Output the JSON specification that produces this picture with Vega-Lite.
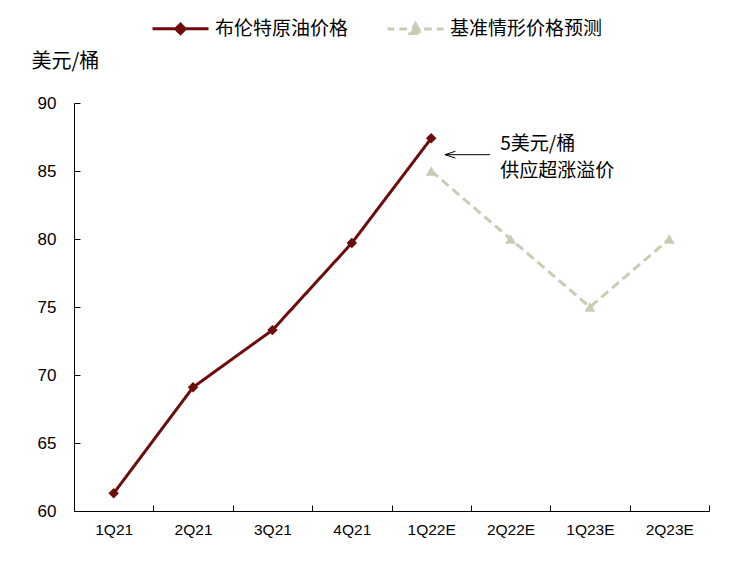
{
  "$schema": "https://vega.github.io/schema/vega-lite/v6.json",
  "autosize": "none",
  "width": 635,
  "height": 408,
  "padding": {"left": 74, "top": 103, "right": 30, "bottom": 52},
  "background": "white",
  "config": {
    "view": {"stroke": null},
    "font": "Noto Sans CJK SC"
  },
  "datasets": {
    "main": [
      {"q": "1Q21", "series": "布伦特原油价格", "value": 61.3},
      {"q": "2Q21", "series": "布伦特原油价格", "value": 69.1},
      {"q": "3Q21", "series": "布伦特原油价格", "value": 73.3},
      {"q": "4Q21", "series": "布伦特原油价格", "value": 79.7},
      {"q": "1Q22E", "series": "布伦特原油价格", "value": 87.4},
      {"q": "1Q22E", "series": "基准情形价格预测", "value": 85},
      {"q": "2Q22E", "series": "基准情形价格预测", "value": 80},
      {"q": "1Q23E", "series": "基准情形价格预测", "value": 75},
      {"q": "2Q23E", "series": "基准情形价格预测", "value": 80}
    ],
    "note": [
      {"q": "1Q22E", "value": 86.2, "label": ["5美元/桶", "供应超涨溢价"]}
    ]
  },
  "encoding": {
    "x": {
      "field": "q", "type": "nominal",
      "sort": ["1Q21", "2Q21", "3Q21", "4Q21", "1Q22E", "2Q22E", "1Q23E", "2Q23E"],
      "scale": {"domain": ["1Q21", "2Q21", "3Q21", "4Q21", "1Q22E", "2Q22E", "1Q23E", "2Q23E"], "paddingInner": 0, "paddingOuter": 0},
      "axis": {
        "title": null, "labelAngle": 0, "tickBand": "extent",
        "tickSize": -6, "tickColor": "black", "domainColor": "black",
        "labelFont": "Liberation Sans", "labelFontSize": 15.5, "labelColor": "black",
        "labelPadding": 17, "grid": false
      }
    },
    "y": {
      "field": "value", "type": "quantitative",
      "scale": {"domain": [60, 90], "zero": false, "nice": false},
      "axis": {
        "title": "美元/桶", "titleAngle": 0, "titleAlign": "left", "titleBaseline": "middle",
        "titleX": -43, "titleY": -42, "titleFontSize": 20, "titleFontWeight": "normal", "titleColor": "black",
        "titleFont": "Noto Sans CJK SC",
        "values": [60, 65, 70, 75, 80, 85, 90],
        "tickSize": -6, "tickColor": "black", "domainColor": "black",
        "labelFont": "Liberation Sans", "labelFontSize": 17, "labelColor": "black",
        "labelPadding": 24, "grid": false
      }
    }
  },
  "layer": [
    {
      "data": {"name": "main"},
      "mark": {"type": "line", "strokeWidth": 3},
      "encoding": {
        "color": {
          "field": "series", "type": "nominal",
          "scale": {"domain": ["布伦特原油价格", "基准情形价格预测"], "range": ["#6e0b0b", "#cbcbb5"]},
          "legend": {
            "title": null, "orient": "none", "direction": "horizontal",
            "legendX": 77, "legendY": -104,
            "labelFontSize": 19, "labelColor": "black", "labelFont": "Noto Sans CJK SC",
            "symbolSize": 3136, "symbolStrokeWidth": 3, "labelOffset": 5, "columnPadding": 32,
            "labelLimit": 300,
            "encode": {
              "symbols": {
                "update": {
                  "shape": {"signal": "datum.value === '布伦特原油价格' ? 'M-1,0L1,0M0,-0.17L0.17,0L0,0.17L-0.17,0Z' : 'M-1,0L-0.76,0M-0.58,0L-0.3,0M0.3,0L0.58,0M0.76,0L1,0M0,-0.19L0.2,0.16L-0.2,0.16Z'"},
                  "stroke": {"scale": "color", "field": "value"},
                  "fill": {"scale": "color", "field": "value"},
                  "strokeWidth": {"value": 3},
                  "strokeDash": {"value": [1, 0]},
                  "opacity": {"value": 1}
                }
              }
            }
          }
        },
        "strokeDash": {
          "field": "series", "type": "nominal",
          "scale": {"domain": ["布伦特原油价格", "基准情形价格预测"], "range": [[1, 0], [9, 5]]},
          "legend": null
        }
      }
    },
    {
      "data": {"name": "main"},
      "transform": [{"filter": "datum.series === '布伦特原油价格'"}],
      "mark": {"type": "point", "shape": "diamond", "filled": true, "opacity": 1, "size": 110, "color": "#6e0b0b"},
      "encoding": {}
    },
    {
      "data": {"name": "main"},
      "transform": [{"filter": "datum.series === '基准情形价格预测'"}],
      "mark": {"type": "point", "shape": "triangle-up", "filled": true, "opacity": 1, "size": 120, "color": "#cbcbb5"},
      "encoding": {}
    },
    {
      "data": {"name": "note"},
      "mark": {"type": "rule", "color": "black", "strokeWidth": 1, "xOffset": 14, "x2Offset": 59},
      "encoding": {
        "x": {"field": "q", "type": "nominal", "bandPosition": 0.5},
        "x2": {"field": "q", "bandPosition": 0.5}
      }
    },
    {
      "data": {"name": "note"},
      "mark": {"type": "point", "shape": "M1,-0.65L-1,0L1,0.65", "filled": false, "stroke": "black", "strokeWidth": 1, "size": 110, "xOffset": 19, "opacity": 1},
      "encoding": {}
    },
    {
      "data": {"name": "note"},
      "mark": {"type": "text", "align": "left", "baseline": "middle", "xOffset": 69, "yOffset": -11, "fontSize": 19, "lineHeight": 27, "color": "black", "font": "Noto Sans CJK SC"},
      "encoding": {"text": {"field": "label"}}
    }
  ]
}
